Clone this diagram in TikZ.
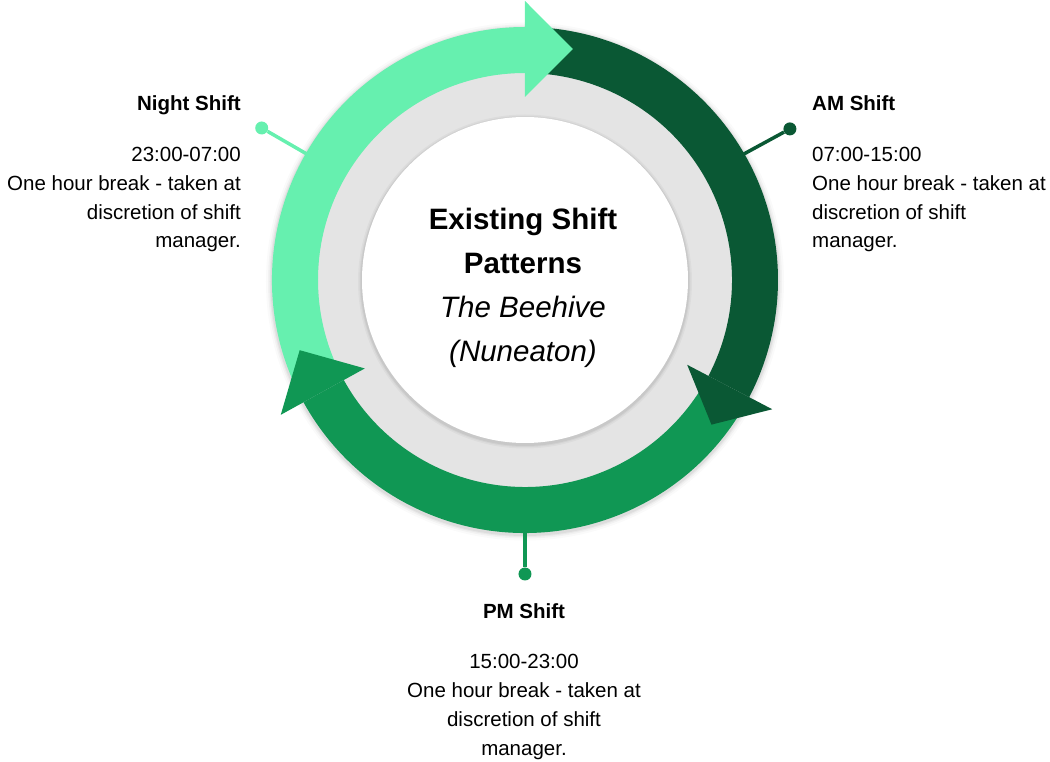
\documentclass[tikz,border=0pt]{standalone}
\usepackage{fontspec}
\setmainfont{Liberation Sans}
\definecolor{lightg}{HTML}{66F0AF}
\definecolor{darkg}{HTML}{0A5834}
\definecolor{midg}{HTML}{109754}
\definecolor{ringgray}{HTML}{E4E4E4}
\tikzset{
  dotnode/.style={circle, inner sep=0pt, minimum size=13pt},
  conn/.style={line width=3.5pt},
  headtxt/.style={inner sep=0pt, font=\fontsize{20.5}{28.7}\selectfont\bfseries},
  bodytxt/.style={inner sep=0pt, font=\fontsize{20.5}{28.7}\selectfont},
  titletxt/.style={inner sep=0pt, align=center, font=\fontsize{29.5}{44}\selectfont}
}
\begin{document}
\begin{tikzpicture}[x=1pt,y=1pt]
\useasboundingbox (-525,-482) rectangle (525,280);
% soft shadow
\foreach \r/\o in {259/0.02,257/0.03,255.5/0.04,254.5/0.05}{
  \fill[black, opacity=\o] (0,-1.5) circle[radius=\r];
}
% gray ring and white disk
\fill[ringgray] (0,0) circle[radius=207];
\foreach \r/\o in {167/0.03,165.5/0.04,164.5/0.05}{
  \fill[black, opacity=\o] (0,-1.5) circle[radius=\r];
}
\fill[white] (0,0) circle[radius=163] node (center) {};
% connectors
\node[dotnode, fill=lightg] (nightdot) at (150:304) {};
\coordinate (nightend) at (150:240);
\draw[conn, lightg] (nightdot) -- (nightend);
\node[dotnode, fill=darkg] (amdot) at (29.7:305) {};
\coordinate (amend) at (30:240);
\draw[conn, darkg] (amdot) -- (amend);
\node[dotnode, fill=midg] (pmdot) at (270:294) {};
\coordinate (pmend) at (270:240);
\draw[conn, midg] (pmdot) -- (pmend);
% bands
\fill[lightg] (206:253) arc[start angle=206, end angle=90, radius=253]
  -- (90:207) arc[start angle=90, end angle=206, radius=207] -- cycle;
\fill[darkg] (89.5:253) arc[start angle=89.5, end angle=-27.6, radius=253]
  -- (-27.6:207) arc[start angle=-27.6, end angle=89.5, radius=207] -- cycle;
\fill[midg] (-28.2:253) arc[start angle=-28.2, end angle=-151.1, radius=253]
  -- (-151.1:207) arc[start angle=-151.1, end angle=-28.2, radius=207] -- cycle;
% heads
\fill[lightg] (90:183) -- (90:279) -- (78.3:236) -- cycle;
\fill[darkg] (-27.6:183) -- (-27.6:279) -- (-37.8:236) -- cycle;
\fill[midg] (208.9:183) -- (208.9:279) -- (197.3:236) -- cycle;
% title
\node[titletxt, anchor=base] (title) at (-2,-82)
  {\bfseries Existing Shift\\\bfseries Patterns\\\itshape The Beehive\\\itshape (Nuneaton)};
% labels
\node[headtxt, anchor=base east] (nighthead) at (-284,169) {Night Shift};
\node[bodytxt, anchor=base east, align=right] (nightbody) at (-284,32)
  {23:00-07:00\\One hour break - taken at\\discretion of shift\\manager.};
\node[headtxt, anchor=base west] (amhead) at (287,169) {AM Shift};
\node[bodytxt, anchor=base west, align=left] (ambody) at (287,32)
  {07:00-15:00\\One hour break - taken at\\discretion of shift\\manager.};
\node[headtxt, anchor=base] (pmhead) at (-1,-338) {PM Shift};
\node[bodytxt, anchor=base, align=center] (pmbody) at (-1,-475)
  {15:00-23:00\\One hour break - taken at\\discretion of shift\\manager.};
\end{tikzpicture}
\end{document}
